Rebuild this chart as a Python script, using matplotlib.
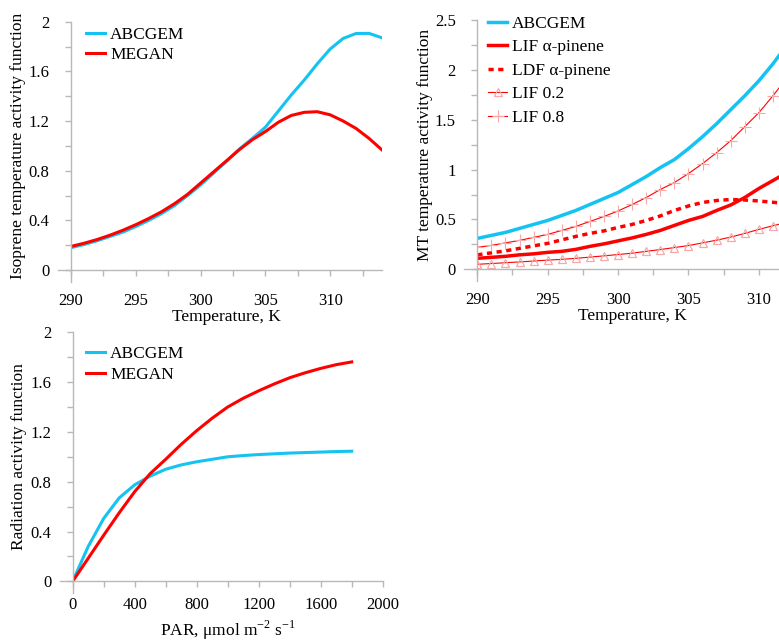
import matplotlib
matplotlib.use('Agg')
import matplotlib.pyplot as plt
from matplotlib.ticker import MultipleLocator, FuncFormatter

plt.rcParams['font.family'] = ['Liberation Serif', 'DejaVu Serif']
plt.rcParams['mathtext.fontset'] = 'custom'
plt.rcParams['mathtext.rm'] = 'Liberation Serif'

BLUE = '#14c3f2'
RED = '#ff0000'
PINK = '#f7a8a8'
GRAY = '#b8b8b8'
FS = 12.5

# isoprene temperature activity (top left)
iso_temp = [290, 291, 292, 293, 294, 295, 296, 297, 298, 299, 300, 301, 302,
            303, 304, 305, 306, 307, 308, 309, 310, 311, 312, 313, 314]
iso_abcgem = [0.18, 0.205, 0.235, 0.27, 0.305, 0.35, 0.40, 0.455, 0.52, 0.60,
              0.685, 0.78, 0.875, 0.975, 1.06, 1.15, 1.28, 1.41, 1.53, 1.66,
              1.78, 1.865, 1.905, 1.906, 1.87]
iso_megan = [0.19, 0.215, 0.245, 0.28, 0.32, 0.365, 0.415, 0.47, 0.535, 0.61,
             0.70, 0.79, 0.88, 0.97, 1.05, 1.115, 1.19, 1.245, 1.27, 1.275,
             1.25, 1.20, 1.14, 1.06, 0.967]

# monoterpene temperature activity (top right)
mt_temp = [290, 291, 292, 293, 294, 295, 296, 297, 298, 299, 300, 301, 302,
           303, 304, 305, 306, 307, 308, 309, 310, 311, 312]
mt_abcgem = [0.31, 0.34, 0.37, 0.41, 0.45, 0.49, 0.54, 0.59, 0.65, 0.71, 0.77,
             0.85, 0.93, 1.02, 1.10, 1.21, 1.33, 1.46, 1.60, 1.74, 1.89, 2.06,
             2.25]
mt_lif = [0.11, 0.12, 0.13, 0.145, 0.155, 0.17, 0.18, 0.20, 0.23, 0.255, 0.285,
          0.315, 0.35, 0.39, 0.44, 0.49, 0.53, 0.59, 0.645, 0.72, 0.81, 0.89,
          0.97]
mt_ldf = [0.145, 0.165, 0.185, 0.21, 0.235, 0.26, 0.295, 0.33, 0.36, 0.385,
          0.42, 0.45, 0.49, 0.535, 0.59, 0.635, 0.67, 0.69, 0.70, 0.695, 0.685,
          0.672, 0.66]
mt_lif02 = [0.05, 0.058, 0.066, 0.074, 0.083, 0.092, 0.10, 0.11, 0.122, 0.135,
            0.148, 0.162, 0.18, 0.198, 0.218, 0.238, 0.265, 0.292, 0.323, 0.36,
            0.40, 0.437, 0.47]
mt_lif08 = [0.22, 0.24, 0.265, 0.29, 0.32, 0.35, 0.39, 0.43, 0.48, 0.53, 0.585,
            0.65, 0.72, 0.80, 0.87, 0.96, 1.06, 1.17, 1.29, 1.43, 1.57, 1.74,
            1.92]

# radiation activity (bottom left)
par = [0, 100, 200, 300, 400, 500, 600, 700, 800, 900, 1000, 1100, 1200,
       1300, 1400, 1500, 1600, 1700, 1800]
rad_abcgem = [0, 0.28, 0.505, 0.67, 0.775, 0.845, 0.90, 0.935, 0.96, 0.98,
              1.0, 1.01, 1.018, 1.024, 1.03, 1.034, 1.038, 1.042, 1.045]
rad_megan = [0, 0.185, 0.37, 0.55, 0.72, 0.865, 0.98, 1.10, 1.21, 1.31, 1.40,
             1.47, 1.53, 1.585, 1.635, 1.675, 1.71, 1.74, 1.762]

fig = plt.figure(figsize=(7.79, 6.41), dpi=100)
FW, FH = 779, 641


def style_axes(ax, xmajor, xminor, ymajor, yminor, xpad=12):
    for side in ['top', 'right']:
        ax.spines[side].set_visible(False)
    for side in ['left', 'bottom']:
        ax.spines[side].set_color(GRAY)
        ax.spines[side].set_linewidth(1)
    ax.xaxis.set_major_locator(MultipleLocator(xmajor))
    ax.xaxis.set_minor_locator(MultipleLocator(xminor))
    ax.yaxis.set_major_locator(MultipleLocator(ymajor))
    ax.yaxis.set_minor_locator(MultipleLocator(yminor))
    fmt = FuncFormatter(lambda v, p: '%g' % round(v, 6))
    ax.xaxis.set_major_formatter(fmt)
    ax.yaxis.set_major_formatter(fmt)
    ax.tick_params(which='both', direction='out', length=4.5, width=1,
                   color=GRAY, labelsize=12)
    ax.tick_params(axis='x', which='major', pad=xpad)
    ax.tick_params(axis='y', which='major', pad=11)
    # axis lines run a little past the origin
    bb = ax.get_position()
    dx = 13 / (bb.width * FW)
    dy = 12 / (bb.height * FH)
    ax.plot([-dx, 0], [0, 0], transform=ax.transAxes, clip_on=False,
            color=GRAY, lw=1)
    ax.plot([0, 0], [-dy, 0], transform=ax.transAxes, clip_on=False,
            color=GRAY, lw=1)


leg_kw = dict(frameon=False, fontsize=FS, handlelength=1.1,
              handletextpad=0.3, labelspacing=0.25, borderaxespad=0,
              loc='upper left')

# top left
ax1 = fig.add_axes([71 / FW, 1 - 270 / FH, 311 / FW, 248.3 / FH])
ax1.plot(iso_temp, iso_abcgem, color=BLUE, lw=2.2, label='ABCGEM')
ax1.plot(iso_temp, iso_megan, color=RED, lw=2.2, label='MEGAN')
ax1.set_xlim(290, 314)
ax1.set_ylim(0, 2)
style_axes(ax1, 5, 2.5, 0.4, 0.2)
ax1.set_xlabel('Temperature, K', fontsize=FS, labelpad=0)
ax1.set_ylabel('Isoprene temperature activity function', fontsize=FS,
               labelpad=2)
ax1.legend(bbox_to_anchor=(0.025, 1.008), **leg_kw)

# top right
ax2 = fig.add_axes([477.3 / FW, 1 - 269.3 / FH, 309.7 / FW, 249.3 / FH])
ax2.plot(mt_temp, mt_abcgem, color=BLUE, lw=2.5, label='ABCGEM')
ax2.plot(mt_temp, mt_lif, color=RED, lw=2.5, label=u'LIF \u03b1-pinene')
ax2.plot(mt_temp, mt_ldf, color=RED, lw=2.5, dashes=[1.5, 1.3],
         label=u'LDF \u03b1-pinene')
ax2.plot(mt_temp, mt_lif02, color=RED, lw=0.8, marker='^', ms=5.5,
         mfc='none', mec=PINK, mew=0.9, label='LIF 0.2')
ax2.plot(mt_temp, mt_lif08, color=RED, lw=0.8, marker='+', ms=9,
         mec=PINK, mew=0.8, label='LIF 0.8')
ax2.set_xlim(290, 312)
ax2.set_ylim(0, 2.5)
style_axes(ax2, 5, 2.5, 0.5, 0.25)
ax2.set_xlabel('Temperature, K', fontsize=FS, labelpad=0)
ax2.set_ylabel('MT temperature activity function', fontsize=FS, labelpad=1)
ax2.legend(bbox_to_anchor=(0.012, 1.045), **dict(leg_kw, labelspacing=0.42))

# bottom left
ax3 = fig.add_axes([72.7 / FW, 1 - 581.3 / FH, 310 / FW, 249 / FH])
ax3.plot(par, rad_abcgem, color=BLUE, lw=2.2, label='ABCGEM')
ax3.plot(par, rad_megan, color=RED, lw=2.2, label='MEGAN')
ax3.set_xlim(0, 2000)
ax3.set_ylim(0, 2)
style_axes(ax3, 400, 200, 0.4, 0.2, xpad=7)
ax3.set_xlabel(r'PAR, $\mathregular{\mu}$mol m$^{\mathregular{-2}}$ s$^{\mathregular{-1}}$',
               fontsize=FS, labelpad=4)
ax3.set_ylabel('Radiation activity function', fontsize=FS, labelpad=2)
ax3.legend(bbox_to_anchor=(0.02, 0.972), **leg_kw)

fig.savefig('out.png', dpi=100)
